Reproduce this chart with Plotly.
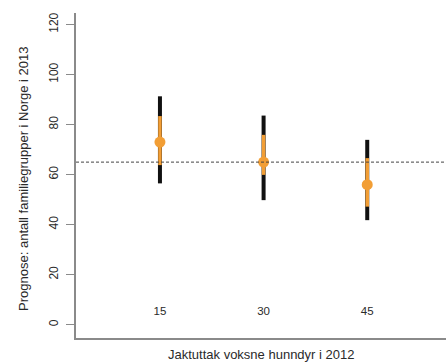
import plotly.graph_objects as go

positions = [1, 2, 3]
group_labels = ["15", "30", "45"]
median = [73.0, 65.0, 56.0]
outer_lo = [56.5, 49.8, 41.8]
outer_hi = [91.3, 83.6, 73.9]
inner_lo = [63.8, 59.9, 47.2]
inner_hi = [83.4, 75.9, 66.6]
reference_level = 65.0
label_y = [5, 5, 5]
y_ticks = [0, 20, 40, 60, 80, 100, 120]

ORANGE = "#F29E35"
TEXT = "#2a2a2a"
AXIS = "#8a8a8a"

fig = go.Figure()

fig.add_trace(go.Scatter(
    x=positions, y=median, mode="markers",
    marker=dict(size=1, color="rgba(0,0,0,0)"),
    error_y=dict(type="data", symmetric=False,
                 array=[h - m for h, m in zip(outer_hi, median)],
                 arrayminus=[m - l for m, l in zip(median, outer_lo)],
                 color="#111111", thickness=4, width=0),
    hoverinfo="skip", showlegend=False))

fig.add_trace(go.Scatter(
    x=positions, y=median, mode="markers",
    marker=dict(size=11, color=ORANGE),
    error_y=dict(type="data", symmetric=False,
                 array=[h - m for h, m in zip(inner_hi, median)],
                 arrayminus=[m - l for m, l in zip(median, inner_lo)],
                 color=ORANGE, thickness=3.5, width=0),
    showlegend=False))

fig.add_trace(go.Scatter(
    x=positions, y=label_y, mode="text", text=group_labels,
    textfont=dict(size=11.5, color=TEXT, family="Liberation Sans"),
    showlegend=False, hoverinfo="skip"))

fig.add_shape(type="line", xref="paper", x0=0, x1=1, yref="y",
              y0=reference_level, y1=reference_level,
              line=dict(color="#444444", width=1, dash="3px,2px"))

fig.add_annotation(text="Jaktuttak voksne hunndyr i 2012", xref="paper",
                   yref="paper", x=0.5, y=-0.022, xanchor="center",
                   yanchor="top", showarrow=False,
                   font=dict(size=13, color=TEXT))
fig.add_annotation(text="Prognose: antall familiegrupper i Norge i 2013",
                   xref="paper", yref="paper", x=-0.14, y=0.49,
                   xanchor="center", yanchor="middle", textangle=-90,
                   showarrow=False, font=dict(size=13, color=TEXT))

fig.update_layout(
    width=446, height=364,
    margin=dict(l=76, r=0, t=13, b=26),
    plot_bgcolor="white", paper_bgcolor="white",
    font=dict(family="Liberation Sans", color=TEXT, size=11),
    xaxis=dict(range=[0.19, 3.76], showgrid=False, zeroline=False,
               showticklabels=False, ticks="", showline=True,
               linecolor=AXIS, linewidth=1.5, automargin=False),
    yaxis=dict(range=[-5.3, 124.6], showgrid=False, zeroline=False,
               tickvals=y_ticks, ticks="outside", ticklen=8,
               tickcolor=AXIS, tickwidth=1, tickangle=-90,
               ticklabelstandoff=3, automargin=False,
               showline=True, linecolor=AXIS, linewidth=1.5,
               tickfont=dict(size=12, color=TEXT)),
)

fig.write_html("out.html", config={"displayModeBar": False},
               post_script="document.body.style.margin='0';"
                           "document.body.style.overflow='hidden';")
